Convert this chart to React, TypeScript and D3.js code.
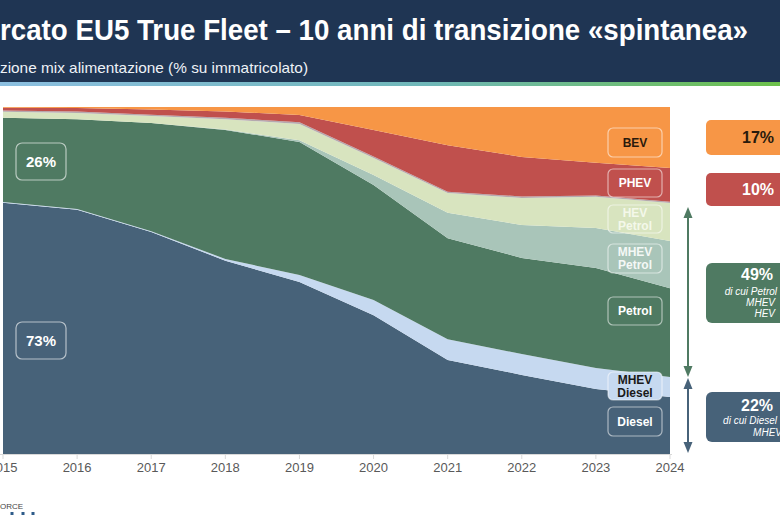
import React from "react";
import * as d3 from "d3";

const years = [2015, 2016, 2017, 2018, 2019, 2020, 2021, 2022, 2023, 2024];
const diesel = [72.4, 70.4, 64.0, 55.7, 49.6, 40.0, 27.1, 22.8, 18.7, 16.4];
const mhevDiesel = [0.2, 0.2, 0.2, 0.5, 2.0, 4.4, 6.0, 6.0, 6.1, 5.8];
const petrol = [24.3, 25.9, 31.2, 37.2, 38.3, 33.1, 29.1, 27.7, 28.8, 25.6];
const mhevPetrol = [0.0, 0.0, 0.0, 0.1, 0.5, 2.9, 7.3, 9.5, 11.5, 13.6];
const hevPetrol = [1.7, 1.8, 2.0, 3.0, 4.7, 4.9, 5.7, 7.8, 9.0, 10.9];
const altro = [0.4, 0.4, 0.4, 0.4, 0.5, 0.4, 0.4, 0.4, 0.4, 0.4];
const phev = [0.8, 1.0, 1.5, 1.8, 2.1, 7.7, 13.4, 11.4, 9.4, 9.7];
const bev = [0.2, 0.3, 0.7, 1.3, 2.3, 6.6, 11.0, 14.4, 16.1, 17.6];

const seriesKeys = ["Diesel", "MHEV Diesel", "Petrol", "MHEV Petrol", "HEV Petrol", "Altro", "PHEV", "BEV"];
const seriesValues = [diesel, mhevDiesel, petrol, mhevPetrol, hevPetrol, altro, phev, bev];
const seriesColors = ["#476279", "#c6d9f0", "#4f7a62", "#a9c5b9", "#d8e4bf", "#b5a9ae", "#c0504d", "#f79646"];

const title = "rcato EU5 True Fleet – 10 anni di transizione «spintanea»";
const subtitle = "zione mix alimentazione (% su immatricolato)";

const W = 780;
const H = 520;

export default function App() {
  const x = d3.scaleLinear().domain([2015, 2024]).range([3, 670]);
  const y = d3.scaleLinear().domain([0, 100]).range([454, 107]);

  const rows = years.map((yr, i) => {
    const r: any = { year: yr };
    seriesKeys.forEach((k, j) => (r[k] = seriesValues[j][i]));
    return r;
  });
  const stacked = d3.stack().keys(seriesKeys)(rows as any);
  const area = d3
    .area<any>()
    .x((d) => x(d.data.year))
    .y0((d) => y(d[0]))
    .y1((d) => y(d[1]))
    .curve(d3.curveLinear);

  const font = "'Liberation Sans', Arial, sans-serif";

  const labelBox = (
    key: string,
    lines: string[],
    y0: number,
    y1: number,
    textColor: string,
    fill = "none"
  ) => {
    const bx = 608;
    const bw = 54;
    const cy = (y0 + y1) / 2;
    return (
      <g key={key}>
        <rect x={bx} y={y0} width={bw} height={y1 - y0} rx={5} fill={fill} stroke="rgba(255,255,255,0.55)" strokeWidth={1.2} />
        {lines.map((t, i) => (
          <text
            key={i}
            x={bx + bw / 2}
            y={cy + (i - (lines.length - 1) / 2) * 13 + 4}
            textAnchor="middle"
            fontFamily={font}
            fontWeight="bold"
            fontSize={12}
            fill={textColor}
          >
            {t}
          </text>
        ))}
      </g>
    );
  };

  const arrow = (x0: number, top: number, bottom: number, color: string) => (
    <g>
      <line x1={x0} x2={x0} y1={top + 8} y2={bottom - 8} stroke={color} strokeWidth={2} />
      <path d={`M${x0},${top} L${x0 - 4.5},${top + 11} L${x0 + 4.5},${top + 11} Z`} fill={color} />
      <path d={`M${x0},${bottom} L${x0 - 4.5},${bottom - 11} L${x0 + 4.5},${bottom - 11} Z`} fill={color} />
    </g>
  );

  return (
    <svg width={W} height={H} style={{ position: "absolute", left: 0, top: 0, background: "#fff" }}>
      <defs>
        <linearGradient id="strip" x1="0" x2="1" y1="0" y2="0">
          <stop offset="0%" stopColor="#8cbfe0" />
          <stop offset="55%" stopColor="#6fb7b8" />
          <stop offset="100%" stopColor="#6cc04a" />
        </linearGradient>
      </defs>
      {/* Header */}
      <rect x={0} y={0} width={W} height={83} fill="#1f3553" />
      <rect x={0} y={82} width={W} height={4} fill="url(#strip)" />
      <text x={0} y={40} fontFamily={font} fontWeight="bold" fontSize={30} fill="#ffffff" textLength={748} lengthAdjust="spacingAndGlyphs">
        {title}
      </text>
      <text x={0} y={73} fontFamily={font} fontSize={15} fill="#eef2f7" textLength={308} lengthAdjust="spacingAndGlyphs">
        {subtitle}
      </text>

      {/* Stacked areas */}
      {stacked.map((s, i) => (
        <path key={seriesKeys[i]} d={area(s as any) || ""} fill={seriesColors[i]} />
      ))}

      {/* X axis */}
      <line x1={0} x2={672} y1={454.5} y2={454.5} stroke="#d9d9d9" strokeWidth={1} />
      {years.map((yr) => (
        <g key={yr}>
          <line x1={x(yr)} x2={x(yr)} y1={454} y2={459} stroke="#d9d9d9" />
          <text x={x(yr)} y={472} textAnchor="middle" fontFamily={font} fontSize={13} fill="#595959">
            {yr}
          </text>
        </g>
      ))}

      {/* Left value boxes */}
      <rect x={16} y={143} width={50} height={37} rx={6} fill="none" stroke="rgba(255,255,255,0.6)" strokeWidth={1.2} />
      <text x={41} y={167} textAnchor="middle" fontFamily={font} fontWeight="bold" fontSize={15} fill="#fff">26%</text>
      <rect x={16} y={322} width={50} height={37} rx={6} fill="none" stroke="rgba(255,255,255,0.6)" strokeWidth={1.2} />
      <text x={41} y={346} textAnchor="middle" fontFamily={font} fontWeight="bold" fontSize={15} fill="#fff">73%</text>

      {/* Series labels inside chart */}
      {labelBox("bev", ["BEV"], 128, 157, "#2a1a0c")}
      {labelBox("phev", ["PHEV"], 169, 197, "#ffffff")}
      {labelBox("hev", ["HEV", "Petrol"], 205, 233, "#f4f8ea")}
      {labelBox("mhevp", ["MHEV", "Petrol"], 244, 273, "#f4f8f6")}
      {labelBox("petrol", ["Petrol"], 297, 325, "#ffffff")}
      {labelBox("mhevd", ["MHEV", "Diesel"], 372, 400, "#1a1a1a", "#c6d9f0")}
      {labelBox("diesel", ["Diesel"], 407, 436, "#ffffff")}

      {/* Arrows */}
      {arrow(688, 207, 377, "#4f7a62")}
      {arrow(688, 378, 453, "#476279")}

      {/* Right summary boxes */}
      <rect x={706} y={120} width={90} height={35} rx={5} fill="#f79646" />
      <text x={758} y={143} textAnchor="middle" fontFamily={font} fontWeight="bold" fontSize={16} fill="#2a1a0c">17%</text>
      <rect x={706} y={173} width={90} height={33} rx={5} fill="#c0504d" />
      <text x={758} y={195} textAnchor="middle" fontFamily={font} fontWeight="bold" fontSize={16} fill="#ffffff">10%</text>
      <rect x={706} y={263} width={90} height={60} rx={6} fill="#4f7a62" />
      <text x={757} y={280} textAnchor="middle" fontFamily={font} fontWeight="bold" fontSize={16} fill="#ffffff">49%</text>
      <text x={777} y={295} textAnchor="end" fontFamily={font} fontStyle="italic" fontSize={10} fill="#ffffff">di cui Petrol</text>
      <text x={775} y={306} textAnchor="end" fontFamily={font} fontStyle="italic" fontSize={10} fill="#ffffff">MHEV</text>
      <text x={775} y={317} textAnchor="end" fontFamily={font} fontStyle="italic" fontSize={10} fill="#ffffff">HEV</text>
      <rect x={706} y={392} width={90} height={50} rx={6} fill="#476279" />
      <text x={757} y={411} textAnchor="middle" fontFamily={font} fontWeight="bold" fontSize={16} fill="#ffffff">22%</text>
      <text x={777} y={424} textAnchor="end" fontFamily={font} fontStyle="italic" fontSize={10} fill="#ffffff">di cui  Diesel</text>
      <text x={782} y={436} textAnchor="end" fontFamily={font} fontStyle="italic" fontSize={10} fill="#ffffff">MHEV</text>

      {/* Logo remnant */}
      <text x={0} y={509} fontFamily={font} fontSize={8} fill="#444">ORCE</text>
      {[12, 23, 33].map((cx) => (
        <rect key={cx} x={cx - 1.5} y={512} width={3} height={3} fill="#2e5c8a" />
      ))}
    </svg>
  );
}
